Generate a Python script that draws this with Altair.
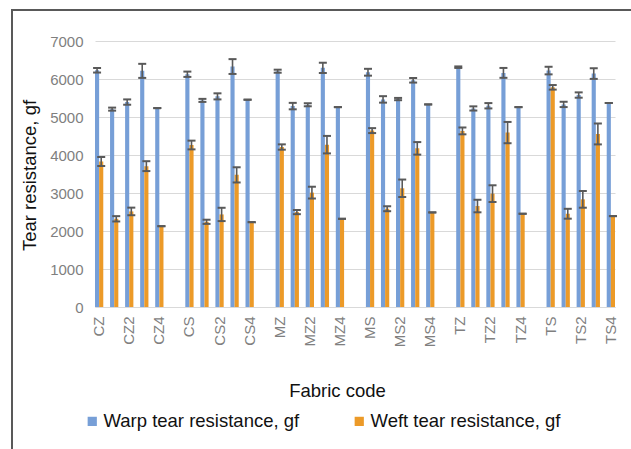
import altair as alt
import pandas as pd

groups = ["CZ", "CS", "MZ", "MS", "TZ", "TS"]
codes = ["CZ", "CZ1", "CZ2", "CZ3", "CZ4",
         "CS", "CS1", "CS2", "CS3", "CS4",
         "MZ", "MZ1", "MZ2", "MZ3", "MZ4",
         "MS", "MS1", "MS2", "MS3", "MS4",
         "TZ", "TZ1", "TZ2", "TZ3", "TZ4",
         "TS", "TS1", "TS2", "TS3", "TS4"]
warp = [6230, 5207, 5393, 6214, 5234,
        6125, 5437, 5543, 6328, 5455,
        6205, 5287, 5322, 6293, 5260,
        6178, 5463, 5472, 5966, 5331,
        6311, 5225, 5296, 6161, 5260,
        6222, 5331, 5578, 6143, 5366]
warp_err = [60, 40, 70, 185, 0,
            70, 40, 80, 195, 0,
            40, 85, 40, 135, 0,
            90, 85, 30, 60, 0,
            20, 55, 70, 130, 0,
            100, 70, 70, 140, 0]
weft = [3830, 2321, 2515, 3707, 2127,
        4263, 2242, 2436, 3477, 2233,
        4210, 2498, 3010, 4272, 2321,
        4642, 2586, 3124, 4175, 2489,
        4634, 2657, 2983, 4590, 2454,
        5781, 2454, 2833, 4554, 2392]
weft_err = [120, 70, 100, 130, 0,
            115, 55, 175, 200, 0,
            70, 55, 155, 230, 0,
            65, 65, 230, 165, 0,
            90, 165, 220, 280, 0,
            60, 130, 220, 275, 0]
series = ["Warp tear resistance, gf", "Weft tear resistance, gf"]
colors = ["#779fd7", "#ec9a28"]
y_ticks = [0, 1000, 2000, 3000, 4000, 5000, 6000, 7000]

# category domain with empty gap slots between the fabric groups
domain = []
for gi, g in enumerate(groups):
    domain += codes[gi * 5:(gi + 1) * 5]
    if gi < len(groups) - 1:
        domain.append(f"gap{gi + 1}")

rows = []
for c, v, e in zip(codes, warp, warp_err):
    rows.append({"code": c, "series": series[0], "value": v, "lo": v - e, "hi": v + e})
for c, v, e in zip(codes, weft, weft_err):
    rows.append({"code": c, "series": series[1], "value": v, "lo": v - e, "hi": v + e})
df = pd.DataFrame(rows)

font = "Liberation Sans"

x_enc = alt.X(
    "code:N",
    scale=alt.Scale(domain=domain, paddingInner=0.45, paddingOuter=0.0),
    axis=alt.Axis(
        title="Fabric code",
        labelAngle=-90,
        labelExpr="test(regexp('[13]$|^gap'), datum.value) ? '' : datum.value",
        labelOverlap=False,
        labelFont=font, labelFontSize=15, labelColor="#7f7f7f",
        labelPadding=9, ticks=False,
        domainColor="#d9d9d9", domainWidth=1,
        titleFont=font, titleFontSize=18.5, titleFontWeight="normal",
        titleColor="#111111",
        titleX=242, titleY=89, titleAlign="center", titleBaseline="alphabetic",
    ),
)
xo = alt.XOffset("series:N", sort=series, scale=alt.Scale(paddingInner=0, paddingOuter=0))

y_axis = alt.Axis(
    title="Tear resistance, gf",
    values=y_ticks,
    format="d",
    labelOverlap=False,
    labelFont=font, labelFontSize=15, labelColor="#7f7f7f",
    labelPadding=12, ticks=False, domain=False,
    gridColor="#d9d9d9", gridWidth=1,
    titleFont=font, titleFontSize=18.5, titleFontWeight="normal",
    titleColor="#111111",
    titleX=-56, titleY=134, titleAngle=-90, titleAlign="center",
    titleBaseline="bottom",
)
y_scale = alt.Scale(domain=[0, 7000], nice=False)

bars = alt.Chart(df).mark_bar().encode(
    x=x_enc,
    xOffset=xo,
    y=alt.Y("value:Q", scale=y_scale, axis=y_axis),
    color=alt.Color(
        "series:N",
        scale=alt.Scale(domain=series, range=colors),
        legend=alt.Legend(
            title=None, orient="none", direction="horizontal",
            legendX=-12, legendY=371,
            symbolType="square", symbolSize=85, symbolStrokeWidth=0,
            symbolOpacity=1,
            labelFont=font, labelFontSize=18.5, labelColor="#111111",
            labelOffset=2, columnPadding=50, labelLimit=400,
        ),
    ),
)

rules = alt.Chart(df).mark_rule(color="#595959", strokeWidth=1.6).encode(
    x=alt.X("code:N"), xOffset=xo,
    y=alt.Y("lo:Q", scale=y_scale, axis=y_axis), y2="hi:Q"
)
cap_lo = alt.Chart(df).mark_tick(color="#595959", size=8, thickness=2, opacity=1).encode(
    x=alt.X("code:N"), xOffset=xo, y=alt.Y("lo:Q", scale=y_scale, axis=y_axis)
)
cap_hi = alt.Chart(df).mark_tick(color="#595959", size=8, thickness=2, opacity=1).encode(
    x=alt.X("code:N"), xOffset=xo, y=alt.Y("hi:Q", scale=y_scale, axis=y_axis)
)

frame_df = pd.DataFrame({"k": [0]})
frame_left = alt.Chart(frame_df).mark_rect(color="#595959", opacity=1).encode(
    x=alt.value(-84), x2=alt.value(-82), y=alt.value(-32), y2=alt.value(420)
)
frame_top = alt.Chart(frame_df).mark_rect(color="#595959", opacity=1).encode(
    x=alt.value(-84), x2=alt.value(536), y=alt.value(-32), y2=alt.value(-30)
)

chart = alt.layer(bars, rules, cap_lo, cap_hi, frame_left, frame_top).properties(
    width=520, height=266,
    padding={"left": 95, "top": 41, "right": 16, "bottom": 142},
    autosize=alt.AutoSizeParams(type="none"),
    background="white",
).configure_view(stroke=None).configure_axisY(labelOverlap=False)

chart.save("out.html", embed_options={"renderer": "svg", "actions": False})
